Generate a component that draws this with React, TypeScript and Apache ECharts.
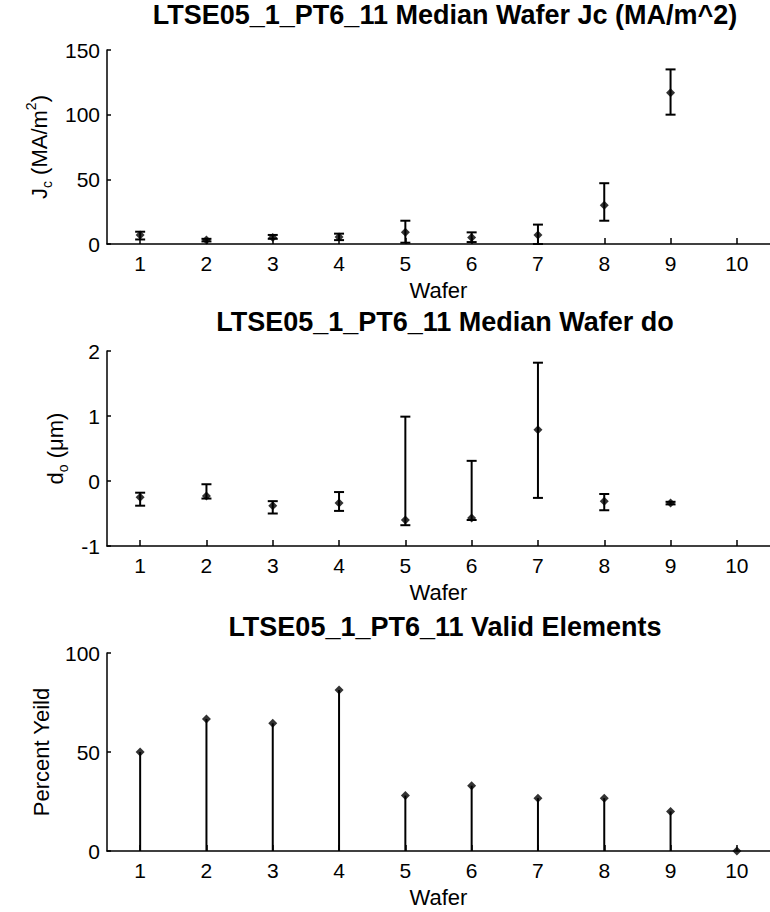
import React, { useEffect, useRef } from "react";
import * as echarts from "echarts";

const wafers = ["1", "2", "3", "4", "5", "6", "7", "8", "9", "10"];

// Panel 1: median Jc (MA/m^2) with error bars
const jcMedian = [7, 3, 5, 5.5, 9, 5, 7, 30, 117];
const jcLow = [3.5, 2, 4, 3, 1, 1.5, 0, 18, 100];
const jcHigh = [9.5, 4, 7, 8, 18, 9, 15, 47, 135];

// Panel 2: median d0 (um) with error bars
const doMedian = [-0.25, -0.23, -0.38, -0.34, -0.6, -0.57, 0.79, -0.31, -0.34];
const doLow = [-0.38, -0.27, -0.5, -0.46, -0.68, -0.6, -0.26, -0.45, -0.36];
const doHigh = [-0.18, -0.05, -0.31, -0.17, 0.99, 0.31, 1.82, -0.2, -0.32];

// Panel 3: percent yield
const yieldVals = [50, 66.7, 64.5, 81.3, 28, 33, 26.7, 26.7, 20, 0];

const titles = [
  "LTSE05_1_PT6_11 Median Wafer Jc (MA/m^2)",
  "LTSE05_1_PT6_11 Median Wafer do",
  "LTSE05_1_PT6_11 Valid Elements",
];

const FONT = "'Liberation Sans', Arial, Helvetica, sans-serif";

export default function App() {
  const ref = useRef<HTMLDivElement>(null);
  useEffect(() => {
    if (!ref.current) return;
    const chart = echarts.init(ref.current, null, { renderer: "svg" });

    const errRender = (params: any, api: any) => {
      const x = api.value(0);
      const lo = api.value(1);
      const hi = api.value(2);
      const p1 = api.coord([x, hi]);
      const p2 = api.coord([x, lo]);
      const w = 5;
      const st = { stroke: "#000", lineWidth: 2 };
      return {
        type: "group",
        children: [
          { type: "line", shape: { x1: p1[0], y1: p1[1], x2: p2[0], y2: p2[1] }, style: st },
          { type: "line", shape: { x1: p1[0] - w, y1: p1[1], x2: p1[0] + w, y2: p1[1] }, style: st },
          { type: "line", shape: { x1: p2[0] - w, y1: p2[1], x2: p2[0] + w, y2: p2[1] }, style: st },
        ],
      };
    };

    const grids = [
      { left: 107, right: -4, top: 50, height: 194 },
      { left: 107, right: -4, top: 351, height: 195 },
      { left: 107, right: -4, top: 653, height: 198 },
    ];

    const axisLine = { show: true, onZero: false, lineStyle: { color: "#000", width: 1.5 } };

    const xAxes = grids.map((_, i) => ({
      type: "category",
      gridIndex: i,
      data: wafers,
      boundaryGap: true,
      axisLine,
      axisTick: { show: true, inside: true, alignWithLabel: true, length: 6, lineStyle: { color: "#000", width: 1.5 } },
      axisLabel: { color: "#000", fontSize: 21, fontFamily: FONT, margin: 9 },
      name: "Wafer",
      nameLocation: "middle",
      nameGap: 35,
      nameTextStyle: { color: "#000", fontSize: 22, fontFamily: FONT },
      splitLine: { show: false },
    }));

    const yBase = {
      type: "value",
      axisLine,
      axisTick: { show: true, inside: true, length: 4, lineStyle: { color: "#000", width: 1.5 } },
      axisLabel: { color: "#000", fontSize: 21, fontFamily: FONT, margin: 7 },
      splitLine: { show: false },
      nameLocation: "middle",
      nameRotate: 90,
      nameTextStyle: {
        color: "#000",
        fontSize: 22,
        fontFamily: FONT,
        rich: {
          n: { fontSize: 22, fontFamily: FONT, color: "#000", lineHeight: 30 },
          sub: { fontSize: 14, fontFamily: FONT, color: "#000", verticalAlign: "bottom", lineHeight: 14 },
          sup: { fontSize: 14, fontFamily: FONT, color: "#000", verticalAlign: "top", lineHeight: 14 },
        },
      },
    };

    const yAxes = [
      { ...yBase, gridIndex: 0, min: 0, max: 150, interval: 50, name: "{n|J}{sub|c}{n| (MA/m}{sup|2}{n|)}", nameGap: 46 },
      { ...yBase, gridIndex: 1, min: -1, max: 2, interval: 1, name: "{n|d}{sub|o}{n| (μm)}", nameGap: 36 },
      { ...yBase, gridIndex: 2, min: 0, max: 100, interval: 50, name: "Percent Yeild", nameGap: 55 },
    ];

    const idx = (n: number) => Array.from({ length: n }, (_, i) => i);

    const option: any = {
      animation: false,
      backgroundColor: "#fff",
      title: titles.map((t, i) => ({
        text: t,
        left: 445,
        textAlign: "center",
        padding: 0,
        top: [1, 308, 613][i],
        textStyle: { color: "#000", fontSize: 27, fontWeight: "bold", fontFamily: FONT },
      })),
      grid: grids,
      xAxis: xAxes,
      yAxis: yAxes,
      series: [
        {
          type: "custom",
          xAxisIndex: 0,
          yAxisIndex: 0,
          renderItem: errRender,
          encode: { x: 0, y: [1, 2] },
          data: idx(jcMedian.length).map((i) => [i, jcLow[i], jcHigh[i]]),
          z: 3,
        },
        {
          type: "scatter",
          xAxisIndex: 0,
          yAxisIndex: 0,
          symbol: "diamond",
          symbolSize: 9,
          itemStyle: { color: "#000" },
          data: idx(jcMedian.length).map((i) => [i, jcMedian[i]]),
          z: 4,
        },
        {
          type: "custom",
          xAxisIndex: 1,
          yAxisIndex: 1,
          renderItem: errRender,
          encode: { x: 0, y: [1, 2] },
          data: idx(doMedian.length).map((i) => [i, doLow[i], doHigh[i]]),
          z: 3,
        },
        {
          type: "scatter",
          xAxisIndex: 1,
          yAxisIndex: 1,
          symbol: "diamond",
          symbolSize: 9,
          itemStyle: { color: "#000" },
          data: idx(doMedian.length).map((i) => [i, doMedian[i]]),
          z: 4,
        },
        {
          type: "bar",
          xAxisIndex: 2,
          yAxisIndex: 2,
          barWidth: 2,
          itemStyle: { color: "#000" },
          data: yieldVals,
          z: 3,
        },
        {
          type: "scatter",
          xAxisIndex: 2,
          yAxisIndex: 2,
          symbol: "diamond",
          symbolSize: 9,
          itemStyle: { color: "#000" },
          data: yieldVals.map((v, i) => [i, v]),
          z: 4,
        },
      ],
    };

    chart.setOption(option);
    return () => chart.dispose();
  }, []);

  return (
    <div
      ref={ref}
      style={{ position: "absolute", left: 0, top: 0, width: 770, height: 912, background: "#fff" }}
    />
  );
}
